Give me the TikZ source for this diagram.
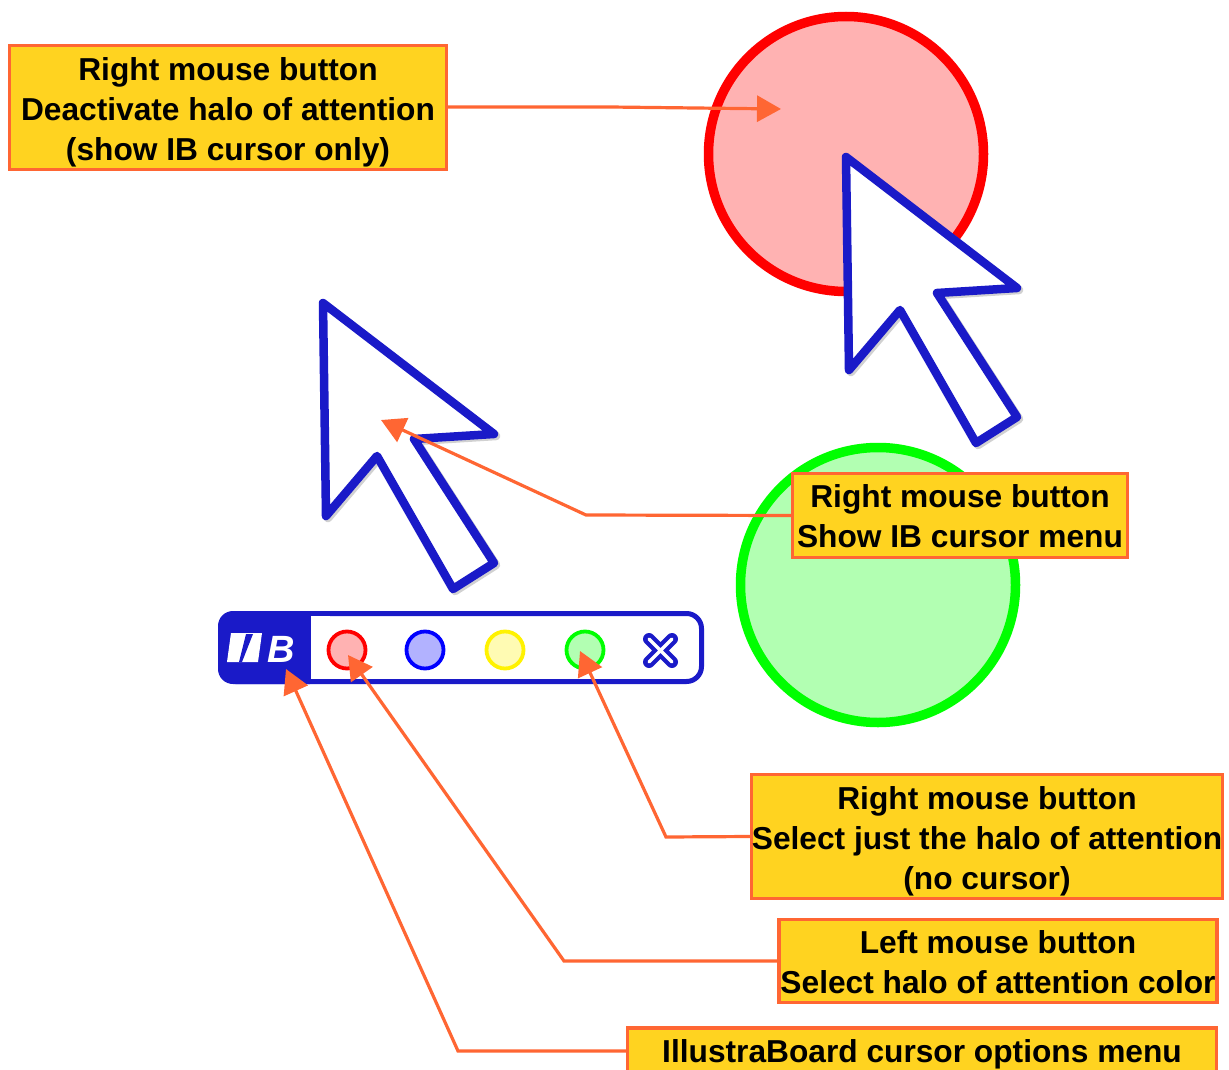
\documentclass[tikz,border=0pt]{standalone}
\usepackage{fontspec}
\setmainfont{Liberation Sans}
\usetikzlibrary{arrows.meta}
\definecolor{org}{HTML}{FF6633}
\definecolor{boxy}{HTML}{FFD320}
\definecolor{ibblue}{HTML}{1A1AC8}
\newcommand\tfix[1]{\rule{0pt}{#1pt}}
\tikzset{
 note/.style={draw=org,fill=boxy,line width=3.2pt,align=center,inner sep=0pt,minimum width=#1,font=\fontsize{31.7}{40}\selectfont\bfseries},
 conn/.style={draw=org,line width=3.2pt,-{Triangle[length=24pt,width=26pt]}},
 halo/.style={line width=9.5pt,draw=#1,fill=#1!30!white},
 minihalo/.style={circle,minimum size=37pt,inner sep=0pt,line width=3.8pt,draw=#1,fill=#1!30!white},
 cursorline/.style={draw=ibblue,line width=8.5pt,line join=round,fill=white},
 cursorshadow/.style={draw=black!18,line width=8.5pt,line join=round}
}
\begin{document}
\begin{tikzpicture}[x=1pt,y=-1pt]
\useasboundingbox (0,0) rectangle (1229,1070);
\clip (0,0) rectangle (1229,1070);
% halos
\node[circle,minimum size=275pt,inner sep=0pt,halo=red] (redhalo) at (846,154) {};
\node[circle,minimum size=275pt,inner sep=0pt,halo=green] (greenhalo) at (878,585) {};
% cursors
\foreach \dx/\dy in {0/0,-523/146}{
 \begin{scope}[shift={(\dx,\dy)}]
 \draw[cursorshadow] (848,159)--(1019,290)--(939,295)--(1019,419)--(978,445)--(902,312)--(851,372)--cycle;
 \draw[cursorline] (846,157)--(1017,288)--(937,293)--(1017,417)--(976,443)--(900,310)--(849,370)--cycle;
 \end{scope}
}
% toolbar
\draw[ibblue,line width=5pt,fill=white,rounded corners=15pt] (220.5,613.5) rectangle (701.5,681.5);
\fill[ibblue,rounded corners=15pt] (218,611) -- (325,611) -- (325,684) -- (218,684) -- cycle;
\fill[white] (311,615.5) rectangle (330,679);
\fill[white] (231,633) -- (262,633) -- (258,662) -- (227,662) -- cycle;
\fill[ibblue] (246,634) -- (253,634) -- (242,662) -- (239,662) -- cycle;
\node[inner sep=0pt,text=white,font=\fontsize{38}{38}\selectfont\bfseries\itshape] (ibb) at (281,649) {B};
\node[minihalo=red] (mred) at (347,650) {};
\node[minihalo=blue] (mblue) at (425,650) {};
\node[minihalo=yellow] (myellow) at (505,650) {};
\node[minihalo=green] (mgreen) at (585,650) {};
\coordinate (xa) at (649,639); \coordinate (xb) at (672,662);
\coordinate (xc) at (672,639); \coordinate (xd) at (649,662);
\draw[ibblue,line width=12pt,line cap=round] (xa)--(xb) (xc)--(xd);
\draw[white,line width=3.5pt,line cap=round] (xa)--(xb) (xc)--(xd);
% notes
\node[note=437pt,minimum height=124pt] (n1) at (228,107.5) {\tfix{33}Right mouse button\\Deactivate halo of attention\\(show IB cursor only)};
\node[note=335pt,minimum height=84pt] (n2) at (960,515.5) {\tfix{25}Right mouse button\\Show IB cursor menu};
\node[note=471pt,minimum height=124pt] (n3) at (987,836.5) {\tfix{33}Right mouse button\\Select just the halo of attention\\(no cursor)};
\node[note=438pt,minimum height=83pt] (n4) at (998,961) {\tfix{25}Left mouse button\\Select halo of attention color};
\node[note=589pt,minimum height=46pt] (n5) at (922,1051) {\tfix{29}IllustraBoard cursor options menu};
% connector ends
\coordinate (t1) at (781,109);
\coordinate (t2) at (381,420);
\coordinate (t3) at (580,651);
\coordinate (t4) at (348,655);
\coordinate (t5) at (286,669);
\draw[conn] (n1.east |- 0,107) -- (610,107) -- (t1);
\draw[conn] (n2.west) -- (586,515) -- (t2);
\draw[conn] (n3.west) -- (666,837) -- (t3);
\draw[conn] (n4.west) -- (564,961) -- (t4);
\draw[conn] (n5.west) -- (458,1051) -- (t5);
\end{tikzpicture}
\end{document}
